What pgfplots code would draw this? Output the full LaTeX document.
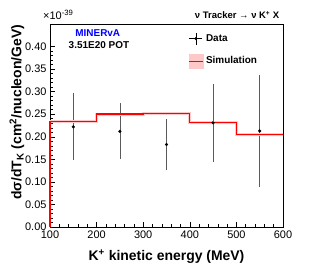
\documentclass[border=0pt]{standalone}
\usepackage{pgfplots}
\pgfplotsset{compat=1.18}
\usepackage{fontspec}
\setmainfont{Liberation Sans}
\definecolor{simred}{RGB}{255,0,0}
\definecolor{simpink}{RGB}{255,200,200}
\definecolor{minblue}{RGB}{0,0,255}
\definecolor{errgray}{RGB}{90,90,90}
\begin{document}
\begin{tikzpicture}
\useasboundingbox (0,0) rectangle (332bp,268bp);
\begin{axis}[
  at={(50bp,41bp)}, anchor=south west,
  scale only axis, width=233bp, height=203bp,
  xmin=100, xmax=600, ymin=0, ymax=0.45,
  xtick={100,200,300,400,500,600},
  ytick={0,0.05,0.10,0.15,0.20,0.25,0.30,0.35,0.40},
  minor x tick num=4, minor y tick num=4,
  tick align=inside,
  xtick pos=bottom, ytick pos=left,
  major tick length=5bp, minor tick length=2.5bp,
  tick style={black, line width=0.5bp},
  axis line style={black, line width=0.8bp},
  /pgf/number format/assume math mode=true,
  yticklabel style={/pgf/number format/.cd, fixed, fixed zerofill, precision=2},
  scaled y ticks=false,
  ticklabel style={font=\fontsize{11}{13}\selectfont},
  xticklabel style={/pgf/number format/.cd, fixed, precision=0, 1000 sep={}},
  xlabel={\textbf{K\textsuperscript{+} kinetic energy (MeV)}},
  xlabel style={font=\fontsize{14}{16}\selectfont, at={(axis description cs:0.5,0)}, anchor=center, yshift=-30bp},
  ylabel={\textbf{dσ/dT\textsubscript{K} (cm\textsuperscript{2}/nucleon/GeV)}},
  ylabel style={font=\fontsize{14}{16}\selectfont, at={(axis description cs:-0.142,0.565)}, anchor=center},
  clip=false,
  legend style={draw=none, fill=none, at={(axis description cs:0.595,0.96)}, anchor=north west,
    font=\bfseries\fontsize{10}{12}\selectfont, row sep=9bp, inner sep=0pt},
  legend cell align=left,
]
\addplot[
  only marks, mark=*, mark size=1.4bp, black, forget plot,
  error bars/.cd, y dir=both, y explicit, error mark=none,
  error bar style={errgray, line width=0.8bp},
] table[x=x, y=y, y error plus=ep, y error minus=em] {
x y ep em
150 0.222 0.076 0.074
250 0.212 0.063 0.062
350 0.183 0.057 0.056
450 0.231 0.087 0.086
550 0.213 0.124 0.124
};
\addlegendimage{legend image code/.code={
  \draw[black, line width=0.6bp] (0bp,0bp) -- (13bp,0bp);
  \draw[black, line width=0.6bp] (6.5bp,-6bp) -- (6.5bp,6bp);
  \fill[black] (6.5bp,0bp) circle (1.3bp);}}
\addlegendentry{Data}
\addlegendimage{legend image code/.code={
  \fill[simpink] (0bp,-7bp) rectangle (14bp,7bp);
  \draw[simred, line width=1.2bp] (0bp,0bp) -- (14bp,0bp);}}
\addlegendentry{Simulation}
\addplot[const plot, simpink, line width=3bp, forget plot] coordinates {
(100,0.2333) (200,0.2504) (300,0.251) (400,0.231) (500,0.2044) (600,0.2044)};
\addplot[const plot, simred, line width=1.2bp, forget plot] coordinates {
(100,0) (100,0.2333) (200,0.2504) (300,0.251) (400,0.231) (500,0.2044) (600,0.2044)};
\node[anchor=base west, font=\fontsize{11}{13}\selectfont, inner sep=0pt] at (axis description cs:-0.03,1.02) {×10\textsuperscript{-39}};
\node[anchor=base east, font=\bfseries\fontsize{9.5}{11}\selectfont, inner sep=0pt] at (axis description cs:0.985,1.025) {ν Tracker → ν K\textsuperscript{+} X};
\node[font=\bfseries\fontsize{10}{12}\selectfont, text=minblue, inner sep=0pt] at (axis description cs:0.205,0.955) {MINERvA};
\node[font=\bfseries\fontsize{10}{12}\selectfont, inner sep=0pt] at (axis description cs:0.21,0.897) {3.51E20 POT};
\end{axis}
\end{tikzpicture}
\end{document}
